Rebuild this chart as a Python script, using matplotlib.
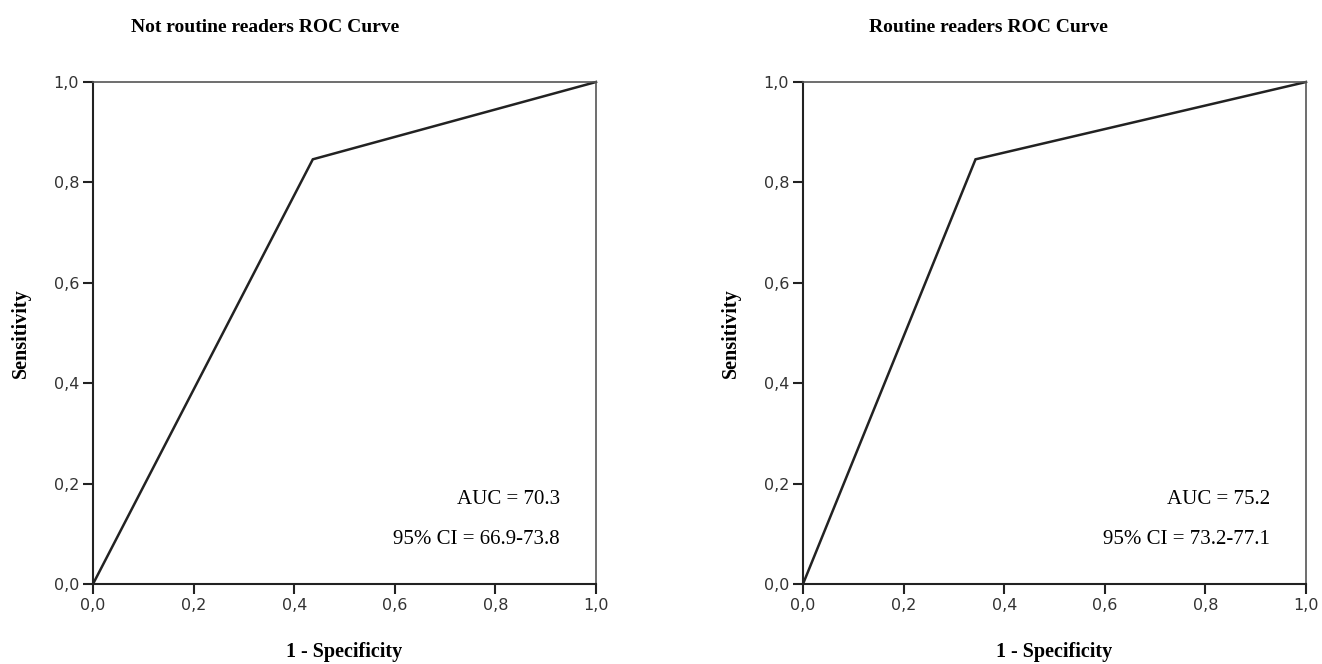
import matplotlib.pyplot as plt
from matplotlib import font_manager

# ROC points (1 - specificity, sensitivity)
fpr_not = [0.0, 0.437, 1.0]
tpr_not = [0.0, 0.846, 1.0]
fpr_rout = [0.0, 0.343, 1.0]
tpr_rout = [0.0, 0.846, 1.0]

titles = ["Not routine readers ROC Curve", "Routine readers ROC Curve"]
auc_labels = ["AUC = 70.3", "AUC = 75.2"]
ci_labels = ["95% CI = 66.9-73.8", "95% CI = 73.2-77.1"]
ticks = [0.0, 0.2, 0.4, 0.6, 0.8, 1.0]
tick_labels = ["0,0", "0,2", "0,4", "0,6", "0,8", "1,0"]

names = {f.name for f in font_manager.fontManager.ttflist}
tick_font = "Liberation Sans Narrow" if "Liberation Sans Narrow" in names else "DejaVu Sans"
serif = "Liberation Serif"

W, H = 1322, 664
fig = plt.figure(figsize=(W / 100, H / 100), dpi=100)

panels = [
    (93, fpr_not, tpr_not, 265),
    (803, fpr_rout, tpr_rout, 988),
]

for i, (x0, fx, fy, tx) in enumerate(panels):
    ax = fig.add_axes([x0 / W, (H - 584) / H, 503 / W, 502 / H])
    ax.plot(fx, fy, color="#222222", lw=1.8, solid_joinstyle="miter", clip_on=False)
    ax.set_xlim(0, 1)
    ax.set_ylim(0, 1)
    ax.set_xticks(ticks)
    ax.set_yticks(ticks)
    ax.set_xticklabels(tick_labels, fontfamily=tick_font, fontsize=11.5, color="#333333")
    ax.set_yticklabels(tick_labels, fontfamily=tick_font, fontsize=11.5, color="#333333")
    ax.tick_params(direction="out", length=7, width=1.5, color="#222222", pad=3)
    for s in ["left", "bottom"]:
        ax.spines[s].set_color("#222222")
        ax.spines[s].set_linewidth(1.5)
    for s in ["top", "right"]:
        ax.spines[s].set_color("#555555")
        ax.spines[s].set_linewidth(1.2)
    ax.set_xlabel("1 - Specificity", fontfamily=serif, fontweight="bold", fontsize=14.5, labelpad=21)
    ax.set_ylabel("Sensitivity", fontfamily=serif, fontweight="bold", fontsize=14.5, labelpad=16)
    ax.text(0.928, 0.168, auc_labels[i], transform=ax.transAxes, ha="right", va="center",
            fontfamily=serif, fontsize=15)
    ax.text(0.928, 0.088, ci_labels[i], transform=ax.transAxes, ha="right", va="center",
            fontfamily=serif, fontsize=15)
    fig.text(tx / W, 1 - 28 / H, titles[i], ha="center", va="center",
             fontfamily=serif, fontweight="bold", fontsize=14)

fig.savefig("out.png", dpi=100)
